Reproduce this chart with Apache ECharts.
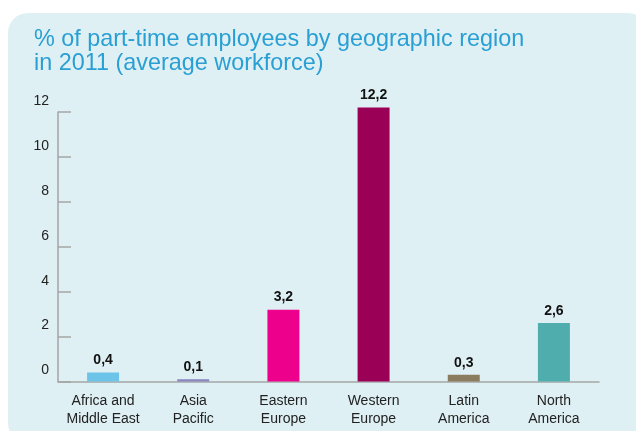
<!DOCTYPE html>
<html>
<head>
<meta charset="utf-8">
<script src="https://cdn.jsdelivr.net/npm/echarts@6/dist/echarts.min.js"></script>
<style>
  html, body { margin: 0; padding: 0; background: #fff; }
  #chart { width: 636px; height: 431px; }
</style>
</head>
<body>
<div id="chart"></div>
<script>
// 数据
var regions = ['Africa and\nMiddle East', 'Asia\nPacific', 'Eastern\nEurope', 'Western\nEurope', 'Latin\nAmerica', 'North\nAmerica'];
var shares = [0.4, 0.1, 3.2, 12.2, 0.3, 2.6];
var barColors = ['#6cc4e8', '#8a85bf', '#ec008c', '#9b0057', '#8c7c5f', '#4fadad'];
var yTicks = [0, 2, 4, 6, 8, 10, 12];

var chart = echarts.init(document.getElementById('chart'));

var option = {
  animation: false,
  textStyle: { fontFamily: 'Liberation Sans, Arial, sans-serif' },
  graphic: [{
    type: 'rect',
    z: -10,
    silent: true,
    shape: { x: 8, y: 13, width: 640, height: 430, r: 20 },
    style: { fill: '#dff0f5' }
  }],
  title: {
    text: '% of part-time employees by geographic region\nin 2011 (average workforce)',
    left: 34,
    top: 28,
    padding: 0,
    textStyle: {
      color: '#2a9fd3',
      fontSize: 23.4,
      fontWeight: 'normal',
      lineHeight: 24
    }
  },
  grid: { left: 58, right: 37, top: 112, bottom: 49.5 },
  xAxis: {
    type: 'category',
    data: regions,
    axisLine: { lineStyle: { color: '#a5a5a5', width: 1.5 } },
    axisTick: { inside: true, length: 4, lineStyle: { color: '#a5a5a5', width: 1.5 } },
    axisLabel: { interval: 0, color: '#222', fontSize: 14, lineHeight: 18, margin: 11 }
  },
  yAxis: {
    type: 'value',
    min: yTicks[0],
    max: yTicks[yTicks.length - 1],
    interval: 2,
    splitLine: { show: false },
    axisLine: { show: true, lineStyle: { color: '#a5a5a5', width: 1.5 } },
    axisTick: { show: true, inside: true, length: 13, lineStyle: { color: '#a5a5a5', width: 1.5 } },
    axisLabel: {
      color: '#222',
      fontSize: 14,
      margin: 9,
      verticalAlign: 'bottom',
      padding: [0, 0, 4, 0]
    }
  },
  series: [{
    type: 'bar',
    barWidth: 32,
    clip: false,
    data: shares.map(function(v, i) {
      return { value: v, itemStyle: { color: barColors[i] } };
    }),
    label: {
      show: true,
      position: 'top',
      distance: 5,
      color: '#111',
      fontSize: 14,
      fontWeight: 'bold',
      formatter: function(p) { return String(p.value).replace('.', ','); }
    }
  }]
};

chart.setOption(option);
</script>
</body>
</html>
